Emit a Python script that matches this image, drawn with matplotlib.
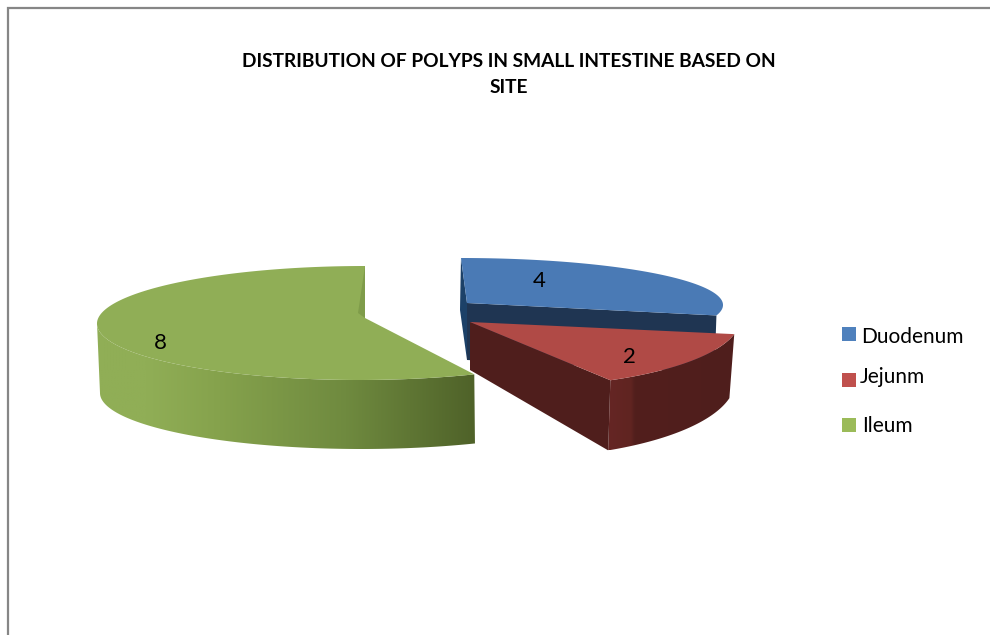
import numpy as np
import matplotlib
matplotlib.use('Agg')
import matplotlib.pyplot as plt
from matplotlib.colors import LinearSegmentedColormap
from matplotlib.patches import Polygon, Rectangle

plt.rcParams['font.family'] = ['Lato', 'DejaVu Sans']

# chart data
sites = ['Duodenum', 'Jejunm', 'Ileum']
polyps = [4, 2, 8]
title = 'DISTRIBUTION OF POLYPS IN SMALL INTESTINE BASED ON\nSITE'

# look of each slice, in pixels of the 990x635 picture
top_colors = ['#4a7ab5', '#b04a46', '#90ae56']
wall_colors = ['#1f3552', '#4f1e1c', '#4f6229']
red_side = [(0, '#652624'), (0.18, '#602421'), (0.21, '#521f1d'), (1, '#4f1e1c')]
green_side = [(0, '#90ae56'), (0.13, '#90ae56'), (0.31, '#86a34d'), (0.66, '#6f8a3f'), (1, '#4f6229')]
legend_colors = ['#4f81bd', '#c0504d', '#9bbb59']
centers = [(461, 305), (511, 319), (362, 323)]
radii = [(262, 47), (229, 68), (265, 57)]
skews = [0, 0, 3]
bottoms = [(461, 362, 260, 47), (511, 381, 224, 77), (361.5, 393, 261.5, 56)]
apexes = [(467, 303), (470, 322), (365, 318)]
apex_depth = [57, 48, 68]
label_pos = [(539, 281), (629, 357), (160, 343)]
legend_box_y = [327, 373, 418]
legend_text_pos = [(861, 337), (860, 377), (862, 426)]


def rim(i, theta):
    cx, cy = centers[i]
    rx, ry = radii[i]
    return np.column_stack([cx + rx * np.sin(theta) + skews[i] * np.cos(theta), cy - ry * np.cos(theta)])


def rim_bottom(i, theta):
    cx, cy, rx, ry = bottoms[i]
    return np.column_stack([cx + rx * np.sin(theta), cy - ry * np.cos(theta)])


def draw_side(i, theta, stops, zorder):
    # outer wall as a left to right gradient clipped to the wall's outline
    outline = np.vstack([rim(i, theta), rim_bottom(i, theta)[::-1]])
    x0, x1 = outline[:, 0].min(), outline[:, 0].max()
    y0, y1 = outline[:, 1].min(), outline[:, 1].max()
    cmap = LinearSegmentedColormap.from_list('side', stops)
    im = ax.imshow(np.linspace(0, 1, 256)[None, :], cmap=cmap, vmin=0, vmax=1, aspect='auto',
                   extent=(x0, x1, y1, y0), zorder=zorder, interpolation='bilinear')
    clip = Polygon(outline, transform=ax.transData, fc='none', ec='none')
    ax.add_patch(clip)
    im.set_clip_path(clip)


fig = plt.figure(figsize=(9.9, 6.35), dpi=100)
ax = fig.add_axes([0, 0, 1, 1])

# slice angles, clockwise from twelve o'clock
edges = np.concatenate([[0], np.cumsum(polyps)]) / sum(polyps) * 2 * np.pi

for i in range(len(polyps)):
    start, end = edges[i], edges[i + 1]
    theta = np.linspace(start, end, 200)
    apex = np.array(apexes[i], dtype=float)
    apex_low = apex + [0, apex_depth[i]]
    first = rim(i, theta[:1])[0]
    last = rim(i, theta[-1:])[0]

    if i == 0:
        # blue shows both cut faces
        ax.add_patch(Polygon([first, apex, apex_low, first + [-1, 52]],
                             fc='#1c4168', ec='none', zorder=1))
        ax.add_patch(Polygon([apex, last, rim_bottom(i, theta[-1:])[0], apex_low],
                             fc=wall_colors[i], ec='none', zorder=1))
    elif i == 1:
        # red shows its second cut face, towards the viewer
        draw_side(i, theta, red_side, 2)
        ax.add_patch(Polygon([apex, apex_low, rim_bottom(i, theta[-1:])[0], last],
                             fc=wall_colors[i], ec='none', zorder=2))
    else:
        # green outer wall, dark at the cut and fading to the left edge
        draw_side(i, np.linspace(start, 1.5 * np.pi, 200), green_side, 3)

    ax.add_patch(Polygon(np.vstack([[apex], rim(i, theta)]), fc=top_colors[i], ec='none',
                         zorder=min(i + 1, 3)))
    if i == 2:
        # sliver of the back cut face
        ax.add_patch(Polygon([last, apex + [-7, -5], apex], fc='#7f9c4a', ec='none', zorder=3))

    ax.text(label_pos[i][0], label_pos[i][1], str(polyps[i]), fontsize=16, color='black',
            ha='center', va='center', zorder=5)

    ax.add_patch(Rectangle((842, legend_box_y[i]), 14, 14, fc=legend_colors[i], ec='none'))
    ax.text(legend_text_pos[i][0], legend_text_pos[i][1], sites[i], fontsize=15, color='black',
            ha='left', va='center')

# chart area border, only top and left are in the picture
ax.plot([8, 8, 990], [635, 7.5, 7.5], color='#868686', lw=1.6, solid_joinstyle='miter')

ax.text(509, 74.5, title, fontsize=13.75, fontweight='bold', color='black', ha='center',
        va='center', linespacing=1.68)

ax.set_xlim(0, 990)
ax.set_ylim(635, 0)
ax.axis('off')

fig.savefig('out.png', dpi=100)
